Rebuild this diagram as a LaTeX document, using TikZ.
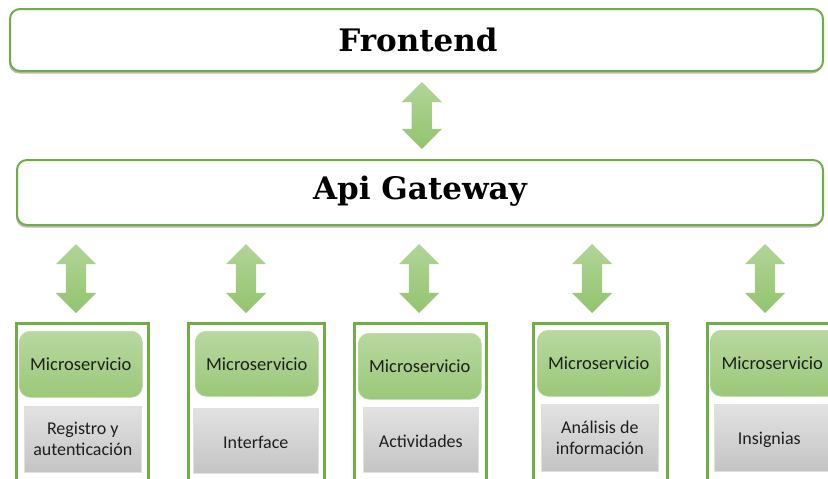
\documentclass[tikz,border=0pt]{standalone}
\usepackage{fontspec}
\newfontfamily\calib{Carlito}
\newfontfamily\titlefont{DejaVu Serif}
\usetikzlibrary{shapes.arrows,shadows,calc}

\definecolor{gborder}{RGB}{112,173,71}
\definecolor{gtop}{RGB}{184,216,160}
\definecolor{gbot}{RGB}{154,200,120}
\definecolor{atop}{RGB}{178,212,152}
\definecolor{abot}{RGB}{146,196,110}
\definecolor{graytop}{RGB}{226,226,226}
\definecolor{graybot}{RGB}{196,196,196}
\definecolor{ink}{RGB}{30,30,30}

\tikzset{
  layerbox/.style={draw=gborder, line width=2pt, fill=white, rounded corners=10pt,
    drop shadow={shadow xshift=-1pt, shadow yshift=-2.5pt, fill=black!45, opacity=0.6}},
  titletext/.style={font=\titlefont\bfseries\fontsize{31}{36}\selectfont},
  service/.style={draw=gborder, line width=3pt, fill=white,
    drop shadow={shadow xshift=0pt, shadow yshift=1.5pt, fill=black!40, opacity=0.5}},
  microbox/.style={draw=gbot!70!white, line width=0.6pt, rounded corners=11pt,
    top color=gtop, bottom color=gbot},
  taskbox/.style={draw=black!12, line width=0.6pt,
    top color=graytop, bottom color=graybot},
  mstext/.style={text=ink, font=\calib\fontsize{18.5}{21}\selectfont},
  tasktext/.style={text=ink, align=center, font=\calib\fontsize{18}{21}\selectfont},
  fatarrow/.style={double arrow, shape border rotate=90, draw=none,
    top color=atop, bottom color=abot, inner sep=10pt,
    double arrow head extend=10pt},
}

\begin{document}
\begin{tikzpicture}[x=1pt, y=-1pt]
  \clip (0,0) rectangle (828,479);

  % upper layers
  \node[layerbox, minimum width=813pt, minimum height=62pt] (front) at (416.5,40) {};
  \node[titletext] at ($(front)+(1.5,0)$) {Frontend};
  \node[layerbox, minimum width=806pt, minimum height=65pt] (gate) at (420,192.5) {};
  \node[titletext] at ($(gate)+(0,-1)$) {Api Gateway};

  % arrow between frontend and gateway
  \node[fatarrow, minimum height=67pt] (a0) at ($(front.south)!0.5!(gate.north) + (3.5,0)$) {};

  % service containers
  \foreach \i/\l/\r/\ml/\mr/\gl/\gr/\mt/\mb/\gt/\gb in {
      1/15/147/19/142/24/141/331/397/406/472,
      2/187/323/195/318/193/318/331/396/408/473,
      3/353/485/358/481/363/478/333/399/407/472,
      4/532/666/537/660/541/658/330/396/404/471,
      5/706/842/710/838/714/834/330/396/404/471} {
    \node[service, minimum width={(\r-\l)*1pt}, minimum height=170pt, anchor=north west]
      (box\i) at (\l,321.5) {};
    \node[microbox, minimum width={(\mr-\ml)*1pt}, minimum height={(\mb-\mt)*1pt}, anchor=north west]
      (ms\i) at (\ml,\mt) {};
    \node[taskbox, minimum width={(\gr-\gl)*1pt}, minimum height={(\gb-\gt)*1pt}, anchor=north west]
      (task\i) at (\gl,\gt) {};
  }

  % labels
  \foreach \i in {1,...,4} {\node[mstext] at (ms\i) {Microservicio};}
  \node[mstext] at ($(ms5)+(-2,0)$) {Microservicio};
  \node[tasktext] at (task1) {Registro y\\autenticación};
  \node[tasktext] at ($(task2)+(0,2)$) {Interface};
  \node[tasktext] at ($(task3)+(0,2)$) {Actividades};
  \node[tasktext] at (task4) {Análisis de\\información};
  \node[tasktext] at ($(task5)+(-5,2)$) {Insignias};

  % arrows between gateway and services
  \foreach \i/\x in {1/76,2/246,3/419,4/592,5/765} {
    \node[fatarrow, minimum height=69pt] (a\i) at (\x,278.5) {};
  }
\end{tikzpicture}
\end{document}
